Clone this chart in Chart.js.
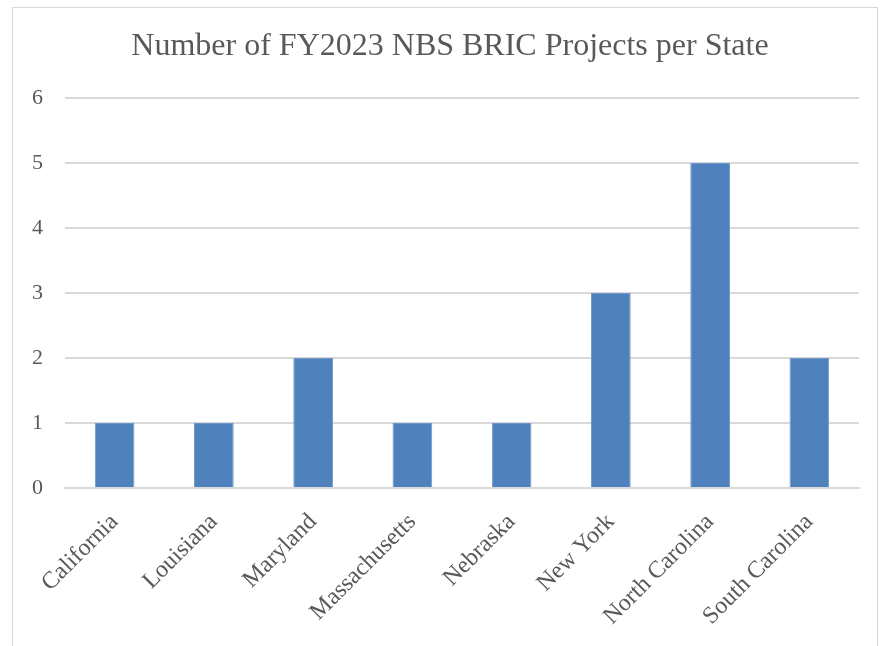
<!DOCTYPE html>
<html>
<head>
<meta charset="utf-8">
<script src="https://cdn.jsdelivr.net/npm/chart.js@4"></script>
<style>
  body { margin: 0; background: #fff; }
  #frame { position: absolute; left: 12px; top: 7px; width: 864px; height: 700px; border: 1px solid #d9d9d9; }
  #myChart { position: absolute; left: 0; top: 0; }
</style>
</head>
<body>
<div id="frame"></div>
<canvas id="myChart" width="888" height="646"></canvas>
<script>
const states = ['California', 'Louisiana', 'Maryland', 'Massachusetts', 'Nebraska', 'New York', 'North Carolina', 'South Carolina'];
const projectCounts = [1, 1, 2, 1, 1, 3, 5, 2];
const yTicks = [0, 1, 2, 3, 4, 5, 6];
const chartTitle = 'Number of FY2023 NBS BRIC Projects per State';

const textColor = '#595959';
const serif = "'Liberation Serif', 'DejaVu Serif', serif";

// title centred on the frame rather than on the plot, so draw it by hand
const frameTitle = {
  id: 'frameTitle',
  afterDraw(chart, _, opts) {
    const ctx = chart.ctx;
    ctx.save();
    ctx.font = `normal ${opts.size}px ${serif}`;
    ctx.fillStyle = textColor;
    ctx.textAlign = 'center';
    ctx.textBaseline = 'middle';
    ctx.fillText(opts.text, opts.x, opts.y);
    ctx.restore();
  }
};

new Chart('myChart', {
  type: 'bar',
  data: {
    labels: states,
    datasets: [{
      label: 'Projects',
      data: projectCounts,
      backgroundColor: '#4f81bd',
      borderColor: '#6f97c9',
      borderWidth: 1,
      barPercentage: 0.4,
      categoryPercentage: 1
    }]
  },
  plugins: [frameTitle],
  options: {
    responsive: false,
    animation: false,
    layout: { padding: { left: 0, right: 29, top: 98, bottom: 0 } },
    plugins: {
      legend: { display: false },
      tooltip: { enabled: false },
      title: { display: false },
      frameTitle: { text: chartTitle, size: 32, x: 450, y: 47 }
    },
    scales: {
      x: {
        afterFit: (scale) => { scale.height = 158; },
        grid: { display: false, drawTicks: false },
        border: { display: true, color: '#d9d9d9', width: 2 },
        ticks: {
          color: textColor,
          font: { family: serif, size: 24 },
          minRotation: 45,
          maxRotation: 45,
          padding: 20,
          autoSkip: false
        }
      },
      y: {
        min: 0,
        max: 6,
        afterFit: (scale) => { scale.width = 65; },
        afterBuildTicks: (scale) => { scale.ticks = yTicks.map(v => ({ value: v })); },
        grid: { color: '#d9d9d9', lineWidth: 2, drawTicks: false },
        border: { display: false },
        ticks: {
          color: textColor,
          font: { family: serif, size: 22 },
          padding: 22
        }
      }
    }
  }
});
</script>
</body>
</html>
